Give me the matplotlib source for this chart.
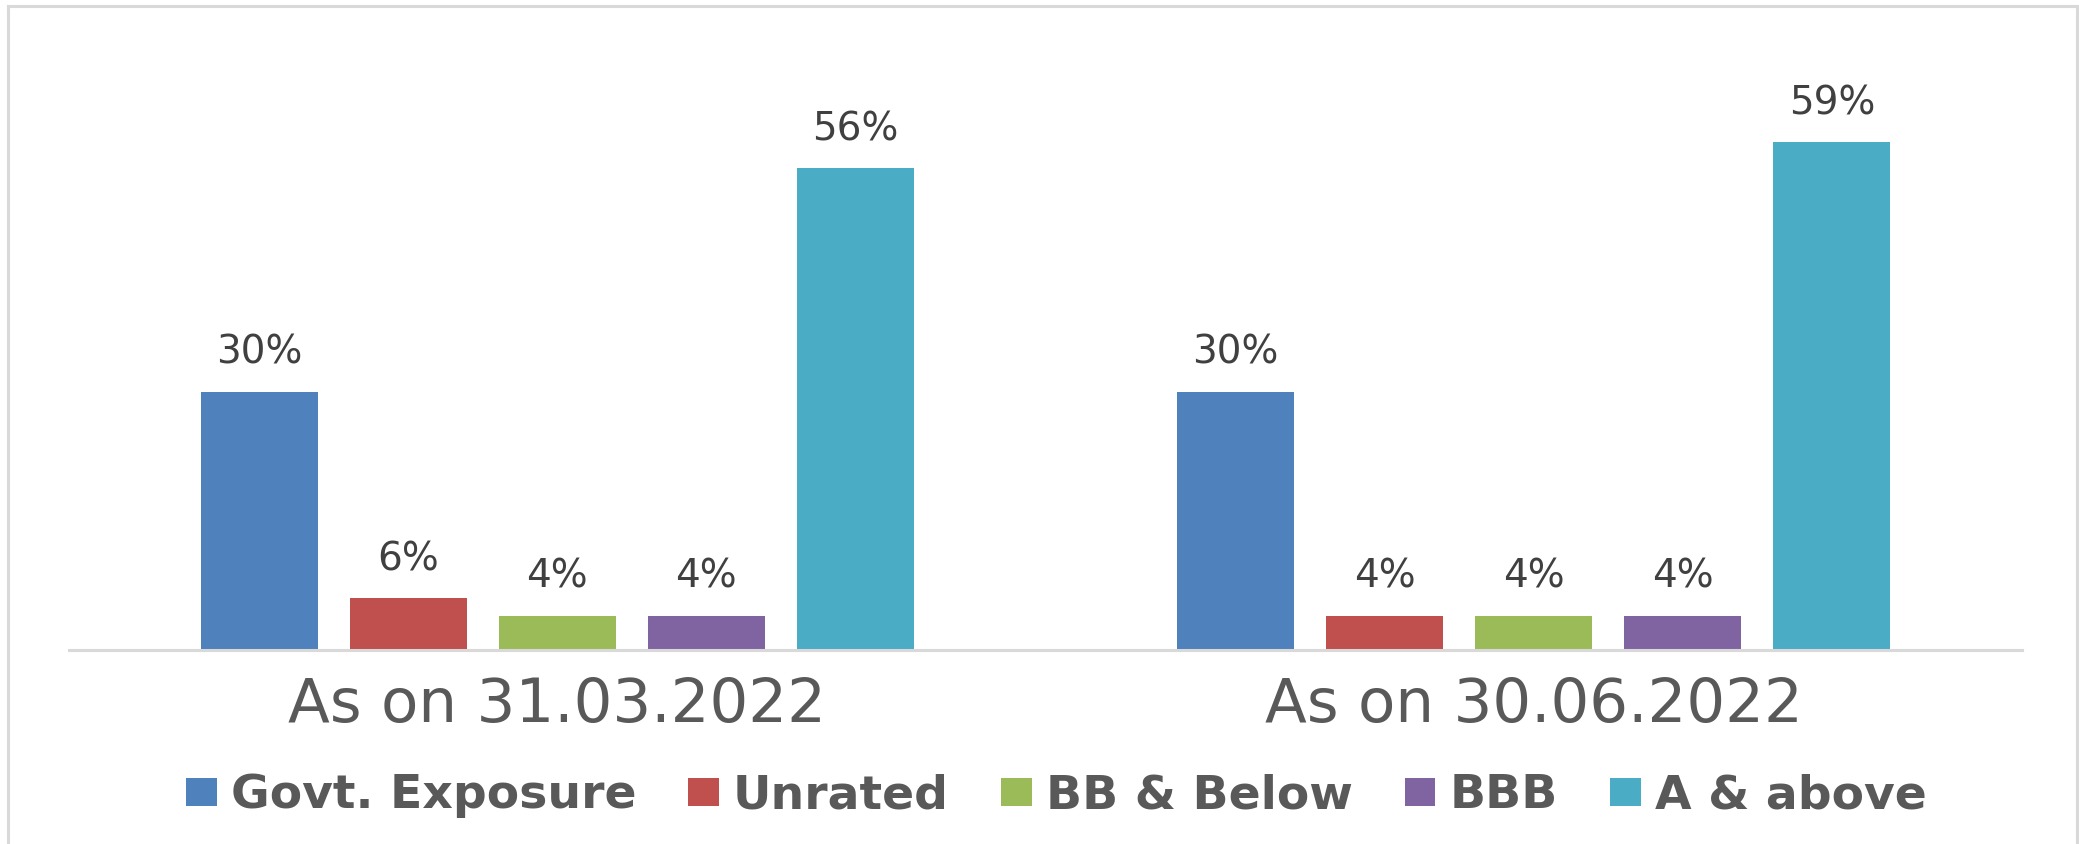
import matplotlib
matplotlib.use("Agg")
import matplotlib.pyplot as plt
from matplotlib.patches import Patch
from matplotlib.lines import Line2D
import numpy as np

# data
periods = ["As on 31.03.2022", "As on 30.06.2022"]
series = ["Govt. Exposure", "Unrated", "BB & Below", "BBB", "A & above"]
govt = [30, 30]
unrated = [6, 4]
bb_below = [4, 4]
bbb = [4, 4]
a_above = [56, 59]
colors = ["#4F81BD", "#C0504D", "#9BBB59", "#8064A2", "#4BACC6"]

values = [govt, unrated, bb_below, bbb, a_above]

W, H = 2079, 844
fig = plt.figure(figsize=(W / 100, H / 100), dpi=100)
ax = fig.add_axes([69 / W, 1 - 650 / H, (2022 - 69) / W, 640 / H])

x = np.arange(len(periods))
step = 0.1526
width = 0.120
for i, (name, vals, c) in enumerate(zip(series, values, colors)):
    pos = x + (i - 2) * step
    bars = ax.bar(pos, vals, width, color=c, label=name, zorder=2)
    for b, v in zip(bars, vals):
        ax.annotate("%d%%" % v, (b.get_x() + b.get_width() / 2, v),
                    xytext=(0, 20), textcoords="offset points",
                    ha="center", va="baseline", fontsize=28,
                    color="#404040", family="DejaVu Sans")

ax.set_xlim(-0.5, 1.5)
ax.set_ylim(0, 640 / 8.61)
ax.set_xticks(x)
ax.set_xticklabels(periods, fontsize=44, color="#595959", family="DejaVu Sans")
ax.tick_params(axis="x", length=0, pad=19)
ax.set_yticks([])
for s in ["top", "left", "right"]:
    ax.spines[s].set_visible(False)
ax.spines["bottom"].set_color("#D9D9D9")
ax.spines["bottom"].set_linewidth(2.2)
ax.spines["bottom"].set_zorder(3)

handles = [Patch(facecolor=c, edgecolor="none") for c in colors]
fig.legend(handles, series, loc="center", bbox_to_anchor=(0.508, 1 - 796 / H),
           ncol=5, frameon=False, handlelength=0.65, handleheight=0.55,
           handletextpad=0.3, columnspacing=1.1,
           prop={"family": "DejaVu Sans", "weight": "bold", "size": 34},
           labelcolor="#595959")

# outer frame (left, top, right)
gray = "#D9D9D9"
fig.add_artist(Line2D([8 / W, 8 / W], [0, 1 - 6 / H], color=gray, lw=2.2, transform=fig.transFigure))
fig.add_artist(Line2D([8 / W, 2077 / W], [1 - 6 / H, 1 - 6 / H], color=gray, lw=2.2, transform=fig.transFigure))
fig.add_artist(Line2D([2077 / W, 2077 / W], [0, 1 - 6 / H], color=gray, lw=2.2, transform=fig.transFigure))

fig.savefig("out.png", dpi=100)
